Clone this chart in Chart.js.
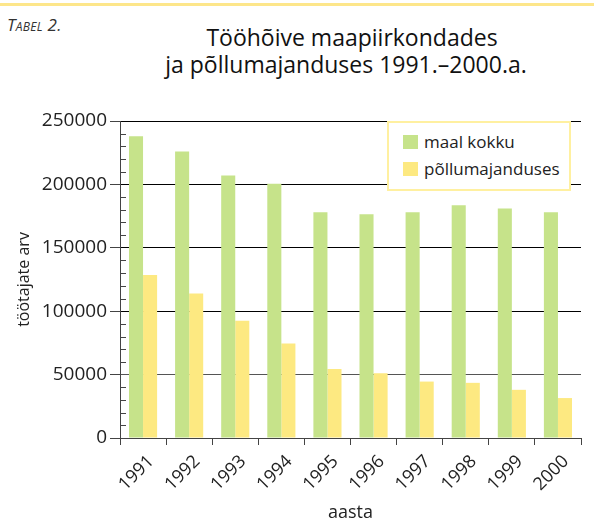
<!DOCTYPE html>
<html>
<head>
<meta charset="utf-8">
<script src="https://cdn.jsdelivr.net/npm/chart.js@4/dist/chart.umd.min.js"></script>
<style>
  html, body { margin: 0; padding: 0; background: #fff; }
  #wrap { position: relative; width: 594px; height: 526px; overflow: hidden; font-family: "Open Sans", "Noto Sans", sans-serif; color: #222; }
  #topline { position: absolute; left: 0; top: 3px; width: 594px; height: 3px; background: #fde68a; }
  #tabel { position: absolute; left: 7px; top: 13px; font-size: 17px; font-style: italic; font-variant: small-caps; color: #333; letter-spacing: 0.3px; }
  .ttl { position: absolute; left: 0; width: 594px; text-align: center; font-size: 23px; line-height: 27px; color: #111; white-space: nowrap; box-sizing: border-box; }
  #t1 { top: 24px; padding-left: 110px; }
  #t2 { top: 51px; padding-left: 98px; }
  #legend { position: absolute; left: 387px; top: 121px; width: 180px; height: 66px; border: 2px solid #fff0a0; background: #fff; box-sizing: content-box; }
  .li { position: absolute; left: 14px; height: 18px; font-size: 17px; line-height: 18px; color: #222; white-space: nowrap; }
  .li span.sw { display: inline-block; width: 15px; height: 14px; vertical-align: top; margin-top: 2px; margin-right: 6px; }
  canvas { position: absolute; left: 0; top: 0; }
</style>
</head>
<body>
<div id="wrap">
  <div id="topline"></div>
  <div id="tabel">Tabel 2.</div>
  <div class="ttl" id="t1">Tööhõive maapiirkondades</div>
  <div class="ttl" id="t2">ja põllumajanduses 1991.–2000.a.</div>
  <canvas id="c" width="594" height="526"></canvas>
  <div id="legend"></div>
</div>
<script>
const years = ["1991","1992","1993","1994","1995","1996","1997","1998","1999","2000"];
const seriesNames = ["maal kokku", "põllumajanduses"];
const maalKokku = [238000, 226000, 207000, 200500, 178000, 176500, 178000, 183500, 181000, 178000];
const pollumajanduses = [128500, 114000, 92500, 74500, 54500, 51000, 44500, 43500, 38000, 31500];
const yTickValues = [0, 50000, 100000, 150000, 200000, 250000];
const yAxisTitle = "töötajate arv";
const xAxisTitle = "aasta";

const colors = ["#c6e38a", "#fde981"];
const FONT = '"Open Sans", "Noto Sans", sans-serif';

const minorTicks = {
  id: 'minorTicks',
  afterDatasetsDraw(chart) {
    const y = chart.scales.y;
    const ctx = chart.ctx;
    const x0 = y.right;
    ctx.save();
    ctx.strokeStyle = '#444';
    ctx.lineWidth = 1;
    for (let v = y.min; v <= y.max; v += 10000) {
      if (v % 50000 === 0) continue;
      const py = Math.round(y.getPixelForValue(v)) + 0.5;
      ctx.beginPath();
      ctx.moveTo(x0, py);
      ctx.lineTo(x0 + 6, py);
      ctx.stroke();
    }
    ctx.restore();
  }
};

const chart = new Chart(document.getElementById('c'), {
  type: 'bar',
  data: {
    labels: years,
    datasets: [
      { label: seriesNames[0], data: maalKokku, backgroundColor: colors[0], borderWidth: 0, categoryPercentage: 0.61, barPercentage: 1.0 },
      { label: seriesNames[1], data: pollumajanduses, backgroundColor: colors[1], borderWidth: 0, categoryPercentage: 0.61, barPercentage: 1.0 }
    ]
  },
  options: {
    responsive: false,
    animation: false,
    devicePixelRatio: 1,
    layout: { padding: { top: 121, right: 13, left: 0, bottom: 0 } },
    plugins: {
      legend: { display: false },
      title: { display: false },
      tooltip: { enabled: false }
    },
    scales: {
      x: {
        grid: { display: true, offset: true, drawOnChartArea: false, drawTicks: true, tickLength: 7, color: '#444', tickColor: '#444' },
        border: { display: true, color: '#444', width: 1 },
        ticks: { color: '#222', font: { family: FONT, size: 18 }, minRotation: 45, maxRotation: 45, padding: 6, labelOffset: 8 },
        title: { display: true, text: xAxisTitle, color: '#222', font: { family: FONT, size: 18 }, padding: { top: 2, bottom: 2 } },
        afterFit(scale) { scale.height = 88; }
      },
      y: {
        min: 0, max: 250000,
        z: 1,
        afterBuildTicks(scale) { scale.ticks = yTickValues.map(v => ({ value: v })); },
        grid: {
          color: (c) => (c.tick && c.tick.value === 0) ? 'rgba(0,0,0,0)' : (c.tick && c.tick.value === 50000 ? '#555' : '#000'),
          tickColor: '#444',
          tickLength: 10,
          lineWidth: 1
        },
        border: { display: true, color: '#444', width: 1 },
        ticks: { color: '#222', font: { family: FONT, size: 19 }, padding: 3, callback: (v) => String(v) },
        title: { display: true, text: yAxisTitle, color: '#222', font: { family: FONT, size: 16 }, padding: { top: 15, bottom: 0 } },
        afterFit(scale) { scale.width = 120; }
      }
    }
  },
  plugins: [minorTicks]
});

// HTML legend built from the chart's datasets
const leg = document.getElementById('legend');
chart.data.datasets.forEach((ds, i) => {
  const d = document.createElement('div');
  d.className = 'li';
  d.style.top = (10 + i * 27) + 'px';
  const sw = document.createElement('span');
  sw.className = 'sw';
  sw.style.background = ds.backgroundColor;
  d.appendChild(sw);
  d.appendChild(document.createTextNode(ds.label));
  leg.appendChild(d);
});
</script>
</body>
</html>
